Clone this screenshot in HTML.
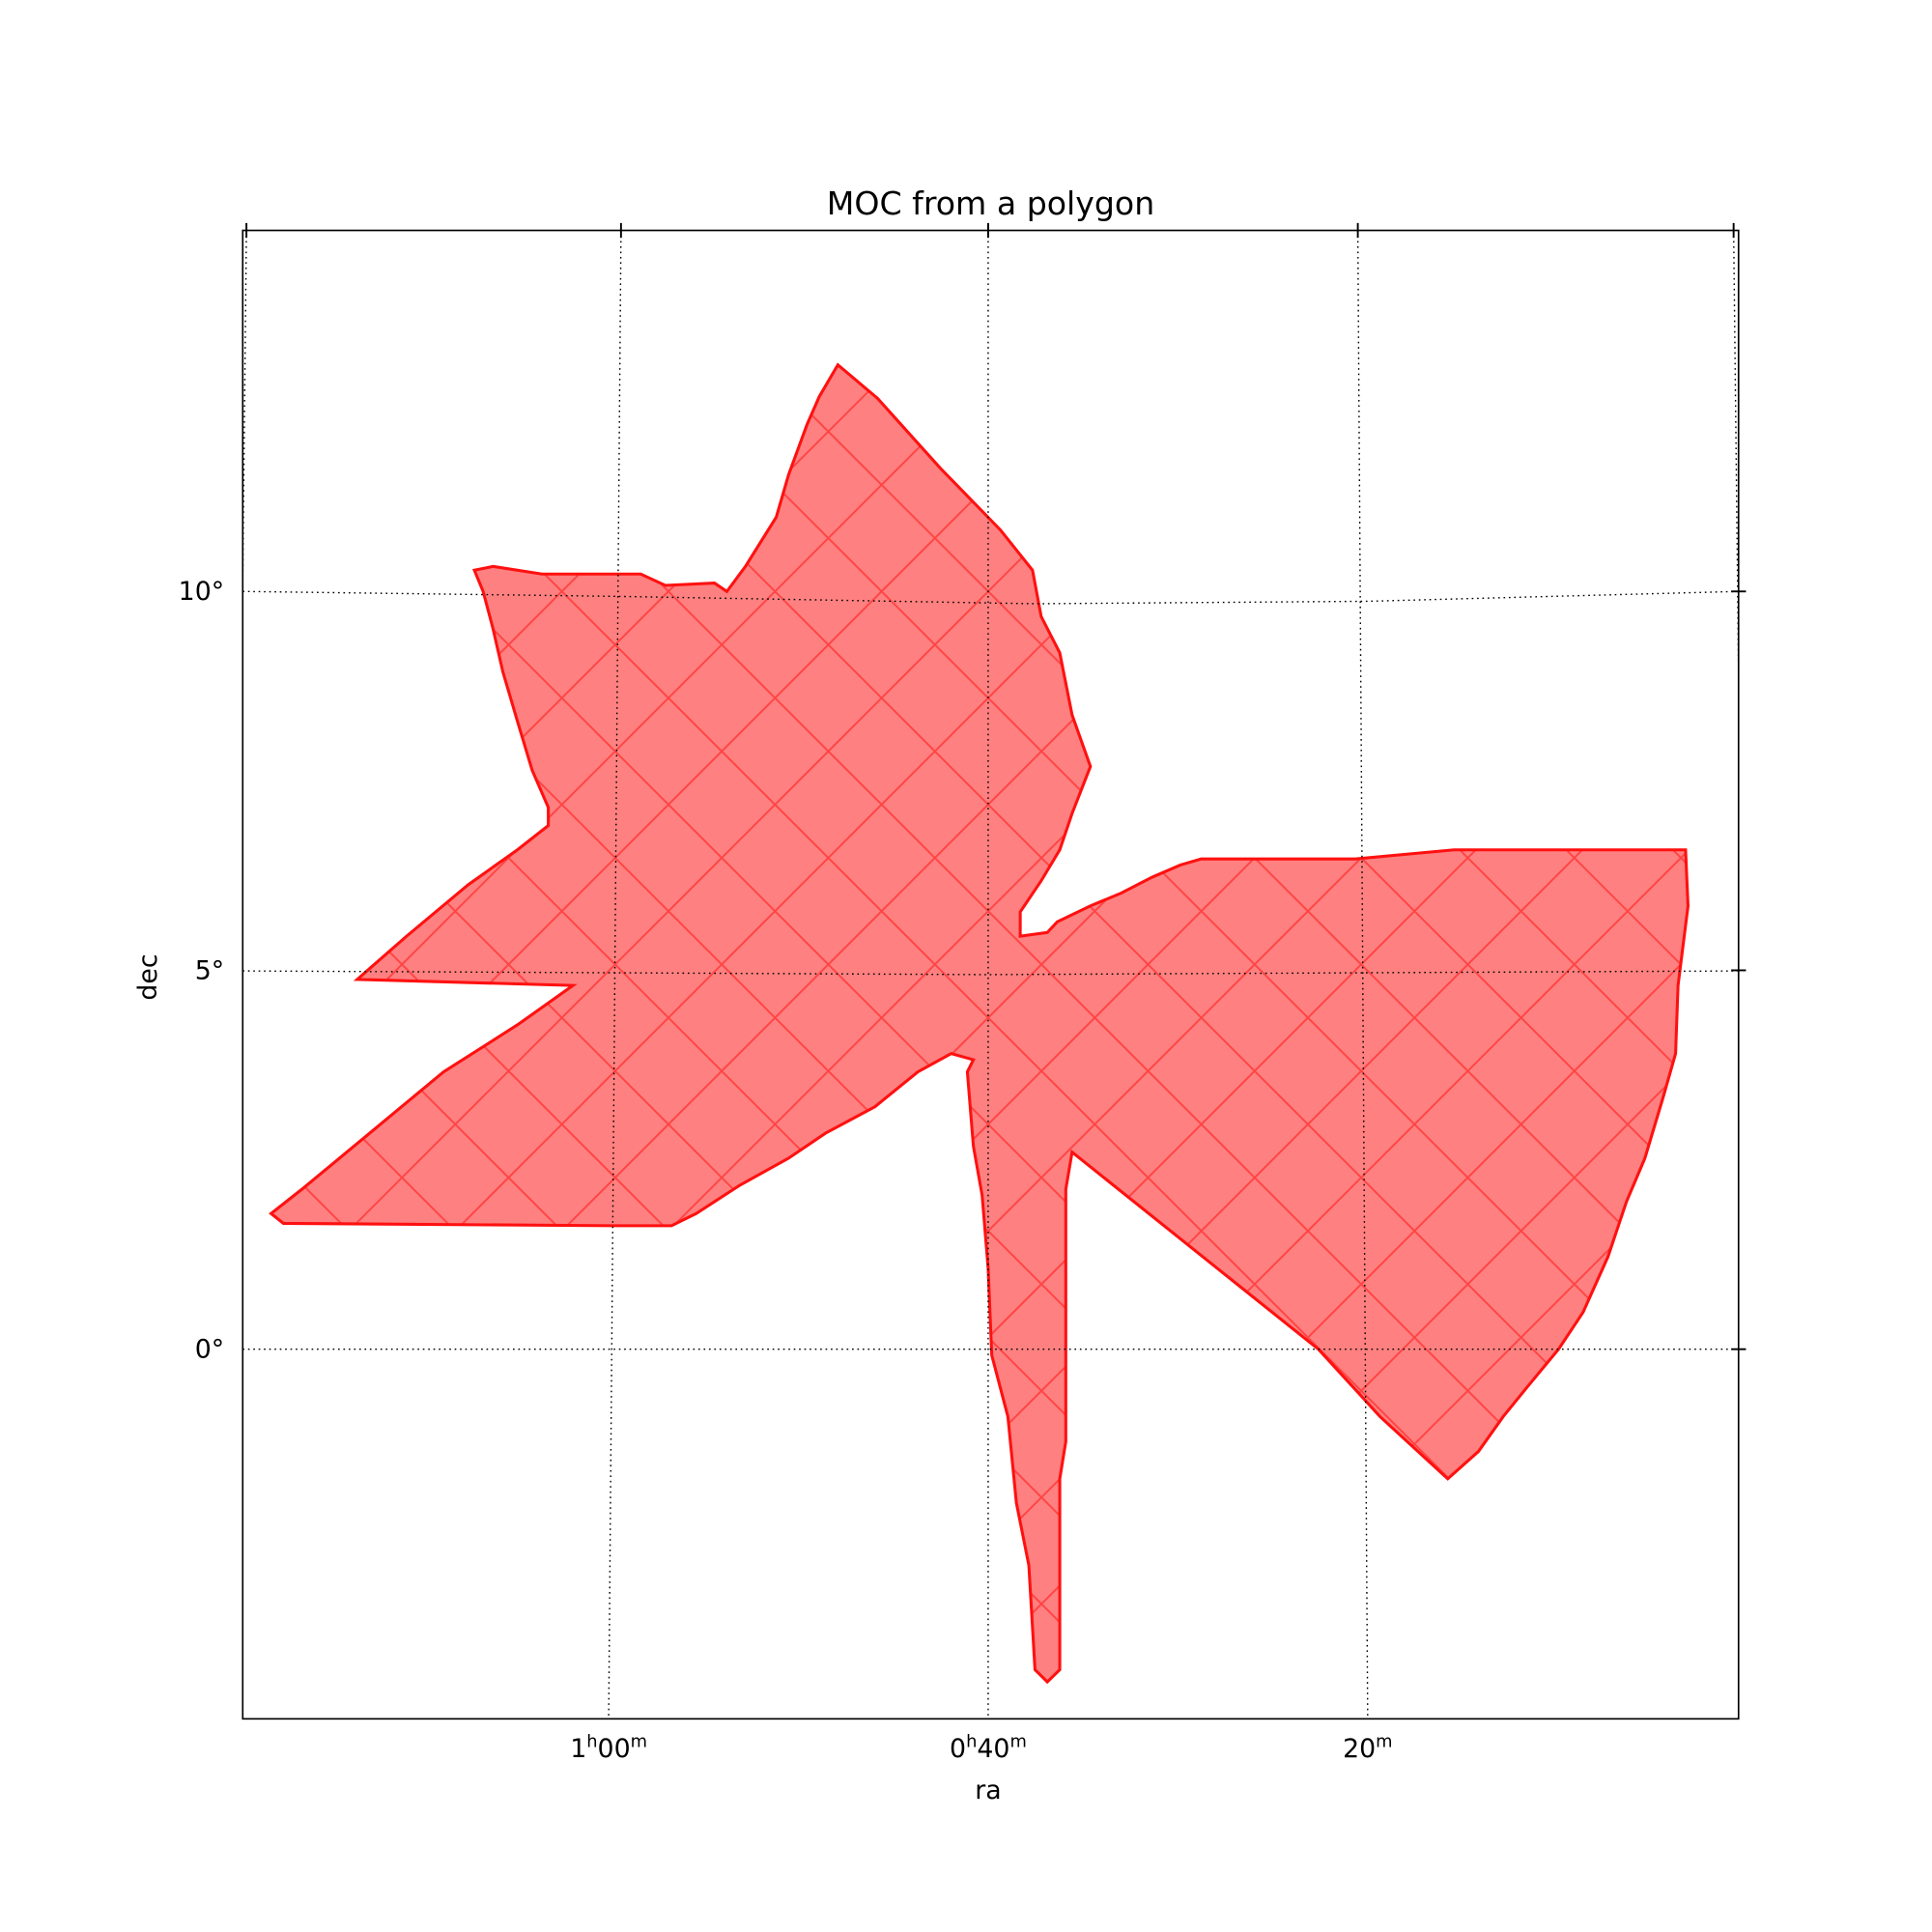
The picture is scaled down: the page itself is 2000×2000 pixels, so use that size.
<!DOCTYPE html>
<html><head><meta charset="utf-8"><style>
html,body{margin:0;padding:0;background:#fff;width:2000px;height:2000px;overflow:hidden}
svg{display:block}
text{font-family:"DejaVu Sans","Liberation Sans",sans-serif;fill:#000}
</style></head><body>
<svg id="chart" width="2000" height="2000" viewBox="0 0 1568 1568" xmlns="http://www.w3.org/2000/svg">
<rect width="1568" height="1568" fill="#fff"/>
<text x="804" y="174" font-size="26" text-anchor="middle">MOC from a polygon</text>
<defs><clipPath id="clipAx"><rect x="197" y="187" width="1214" height="1208"/></clipPath></defs>
<g id="shape" clip-path="url(#clipAx)"></g>
<g id="grid"></g>
<rect x="197" y="187" width="1214" height="1208" fill="none" stroke="#000" stroke-width="1.3"/>
<g id="ticks"></g>
<text x="802" y="1460" font-size="21" text-anchor="middle">ra</text>
<text x="0" y="0" font-size="21" text-anchor="middle" transform="translate(127,793) rotate(-90)">dec</text>
</svg>
<script>
// polygon vertices: RA (minutes of time past 0h) and Dec (degrees)
const raVals = [47.92,45.84,42.53,39.35,37.66,37.21,36.23,35.58,34.61,35.58,36.23,37.21,38.31,38.31,36.88,36.36,34.61,32.99,31.36,29.87,28.77,20.65,15.45,3.25,3.12,3.64,3.77,4.42,5.39,6.36,7.34,8.64,9.94,11.56,12.86,14.16,15.78,19.35,22.60,35.58,35.91,35.91,36.23,36.23,36.88,37.53,37.86,38.51,38.96,39.81,40.00,40.32,40.78,41.10,40.78,41.95,43.70,45.97,48.57,50.52,53.12,55.39,56.69,59.61,77.14,77.79,76.17,72.60,68.70,64.81,61.88,73.25,70.65,67.40,64.81,63.18,63.18,64.03,64.81,65.58,66.10,66.62,67.08,66.10,63.51,58.31,57.01,54.42,53.77,52.79,51.17,50.52,49.55,48.90];
const decVals = [12.99,12.55,11.63,10.81,10.28,9.67,9.19,8.37,7.69,7.07,6.59,6.18,5.77,5.45,5.50,5.64,5.85,6.02,6.23,6.39,6.47,6.47,6.59,6.59,5.85,4.80,3.90,3.33,2.52,1.95,1.22,0.49,0.00,-0.49,-0.89,-1.35,-1.71,-0.89,0.00,2.60,2.11,-1.22,-1.71,-4.23,-4.39,-4.23,-2.85,-2.03,-0.89,-0.08,1.06,2.03,2.68,3.66,3.82,3.90,3.66,3.20,2.85,2.52,2.16,1.79,1.63,1.63,1.66,1.79,2.11,2.85,3.66,4.28,4.80,4.88,5.45,6.13,6.59,6.91,7.15,7.64,8.29,8.94,9.51,10.00,10.28,10.33,10.23,10.23,10.08,10.11,10.00,10.33,10.98,11.54,12.20,12.57];
const raTickVals = [60,40,20];
const raTickLabels = ["1<tspan font-size='14' dy='-8'>h</tspan><tspan dy='8'>00</tspan><tspan font-size='14' dy='-8'>m</tspan>","0<tspan font-size='14' dy='-8'>h</tspan><tspan dy='8'>40</tspan><tspan font-size='14' dy='-8'>m</tspan>","20<tspan font-size='14' dy='-8'>m</tspan>"];
const decTickVals = [10,5,0];
const decTickLabels = ["10°","5°","0°"];

const NS="http://www.w3.org/2000/svg";
function X(ra){return 802-(ra-40)*15.4;}
function Y(dec){return 1095-dec*61.5;}
function mk(tag,attrs,parent){const e=document.createElementNS(NS,tag);for(const k in attrs)e.setAttribute(k,attrs[k]);parent.appendChild(e);return e;}

const shape=document.getElementById('shape');
const pts=raVals.map((r,i)=>X(r).toFixed(1)+','+Y(decVals[i]).toFixed(1)).join(' ');
const defs=document.querySelector('defs');
const cp=mk('clipPath',{id:'clipShape'},defs);
mk('polygon',{points:pts},cp);
const fill=mk('polygon',{points:pts,fill:'#ff8080',stroke:'none'},shape);


const cells=mk('g',{'clip-path':'url(#clipShape)',stroke:'#ff3a3a','stroke-width':'1.5',opacity:'0.85'},shape);


const step=86.5, ox=802, oy=480, yT=187, yB=1395;
for(let k=-30;k<=30;k++){
  const c=ox+k*step;
  // slope +1 line through (c, oy): x = c + (y-oy)
  const l1=mk('line',{x1:c+(yT-oy),y1:yT,x2:c+(yB-oy),y2:yB},cells);
  
  
  const l2=mk('line',{x1:c-(yT-oy),y1:yT,x2:c-(yB-oy),y2:yB},cells);
  
  
}
const outline=mk('polygon',{points:pts,fill:'none',stroke:'#ff1010','stroke-width':'2.4','stroke-linejoin':'miter'},shape);



// grid
const grid=document.getElementById('grid');
const gs={fill:'none',stroke:'#000','stroke-width':'1.1','stroke-dasharray':'1.3,3'};
const glines=[
 "200,187 197,470",
 "504,187 494,1395",
 "802,187 802,1395",
 "1102,187 1110,1395",
 "1407,187 1411,545",
 "197,480 500,484 840,490 1110,488 1411,480",
 "197,788 800,791 1411,788",
 "197,1095 1411,1095"];
glines.forEach(p=>{const g=mk('polyline',Object.assign({points:p},gs),grid);

});

const ticks=document.getElementById('ticks');
raTickVals.forEach((v,i)=>{
  const x=X(v);
  const t=mk('text',{x:x,y:1426,'font-size':'21','text-anchor':'middle'},ticks);
  t.innerHTML=raTickLabels[i];
  
  
});
[200,504,802,1102,1407].forEach(x=>{const l=mk('line',{x1:x,y1:181,x2:x,y2:193,stroke:'#000','stroke-width':'1.5'},ticks);

});
decTickVals.forEach((v,i)=>{
  const y=Y(v);
  const t=mk('text',{x:182,y:y+7,'font-size':'21','text-anchor':'end'},ticks);
  t.textContent=decTickLabels[i];
  
  
  const l=mk('line',{x1:1405,y1:y,x2:1417,y2:y,stroke:'#000','stroke-width':'1.5'},ticks);
  
  
});
</script>
</body></html>
